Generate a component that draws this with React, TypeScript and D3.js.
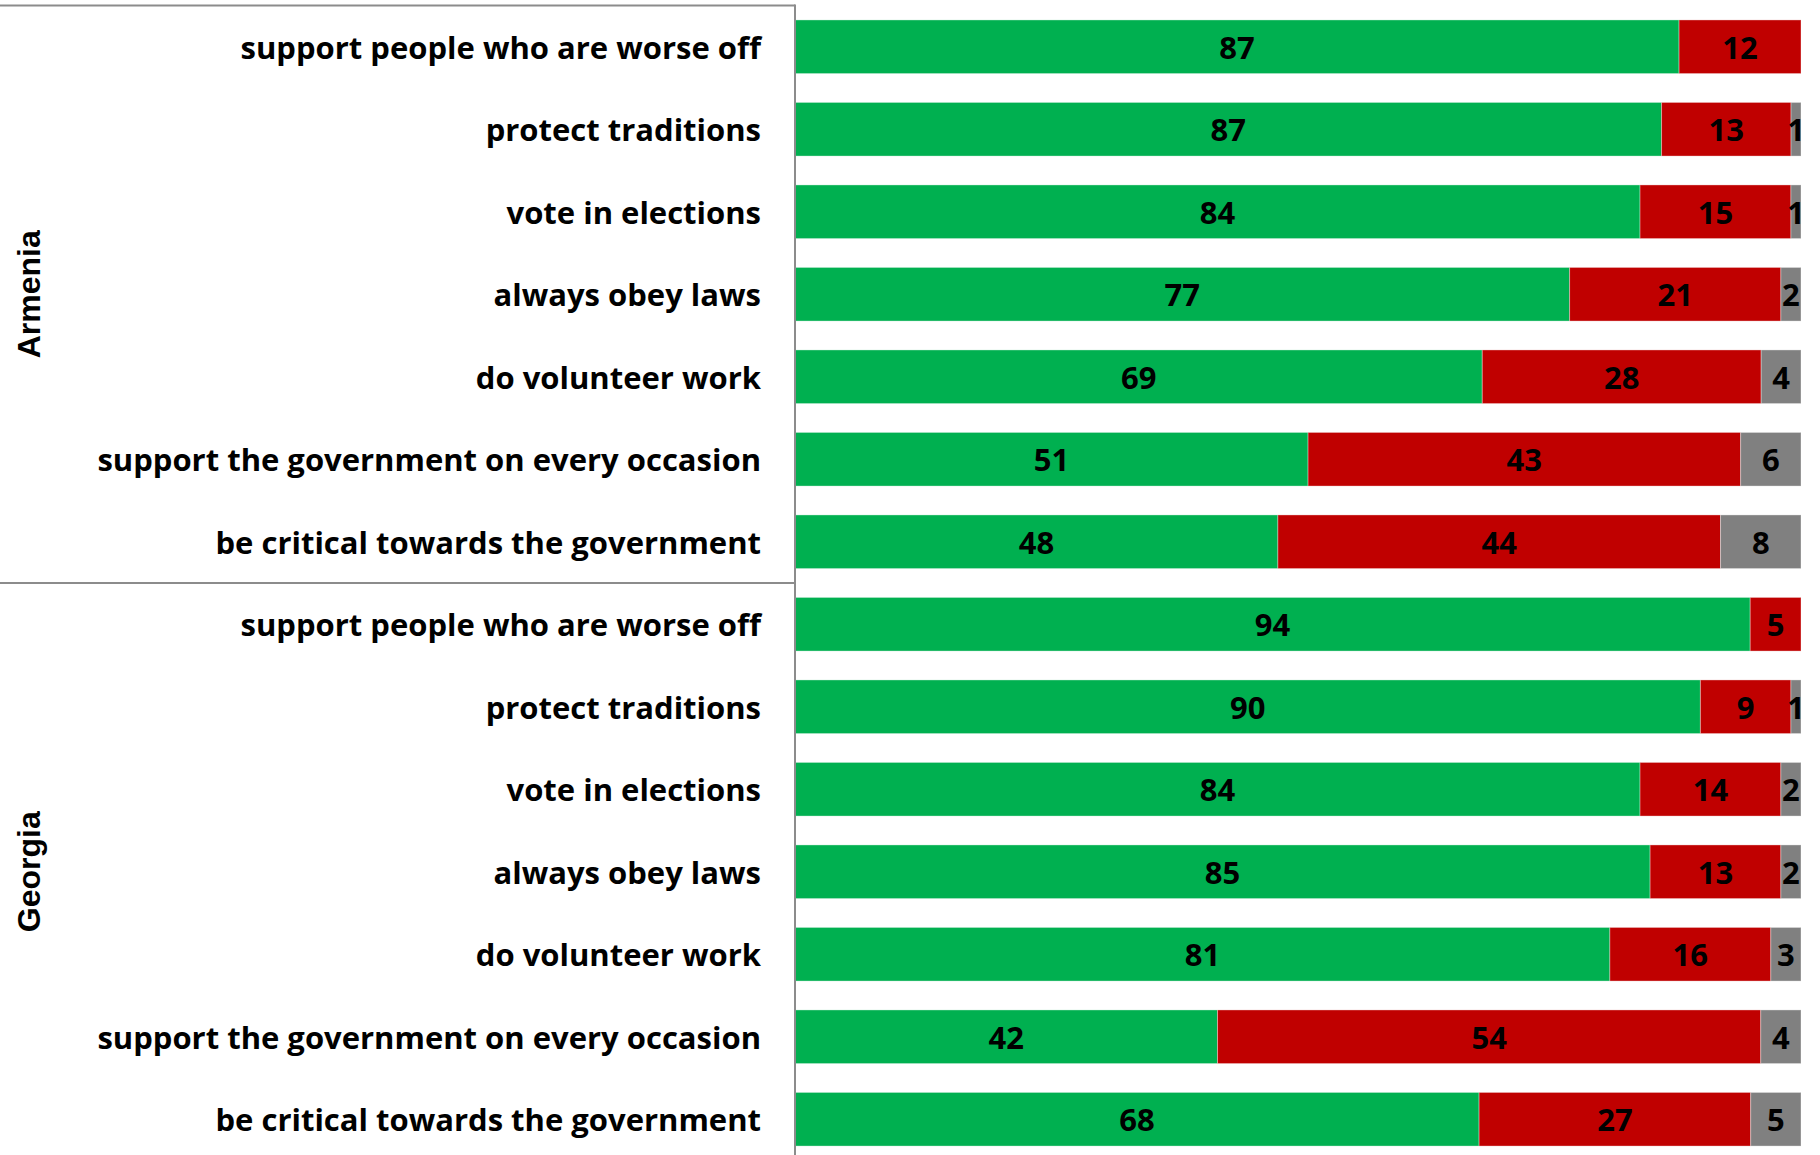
import React, { useMemo } from "react";
import * as d3 from "d3";

const categories = [
  "support people who are worse off",
  "protect traditions",
  "vote in elections",
  "always obey laws",
  "do volunteer work",
  "support the government on every occasion",
  "be critical towards the government",
];
const groups = ["Armenia", "Georgia"];
const armeniaAgree = [87, 87, 84, 77, 69, 51, 48];
const armeniaDisagree = [12, 13, 15, 21, 28, 43, 44];
const armeniaDontKnow = [0, 1, 1, 2, 4, 6, 8];
const georgiaAgree = [94, 90, 84, 85, 81, 42, 68];
const georgiaDisagree = [5, 9, 14, 13, 16, 54, 27];
const georgiaDontKnow = [0, 1, 2, 2, 3, 4, 5];
const seriesKeys = ["agree", "disagree", "dontKnow"];
const seriesColors = ["#00B050", "#C00000", "#808080"];

const W = 1820;
const H = 1155;
const plotLeft = 795;
const plotRight = 1801;
const plotTop = 5.5;
const plotBottom = 1160.5;
const labelRight = 761;
const targetLabelWidth = 664;
const lineColor = "#8c8c8c";
const labelFont = "'Open Sans', sans-serif";

type Row = { id: string; group: string; category: string; agree: number; disagree: number; dontKnow: number };

const rows: Row[] = [];
categories.forEach((c, i) =>
  rows.push({ id: "A" + i, group: groups[0], category: c, agree: armeniaAgree[i], disagree: armeniaDisagree[i], dontKnow: armeniaDontKnow[i] })
);
categories.forEach((c, i) =>
  rows.push({ id: "G" + i, group: groups[1], category: c, agree: georgiaAgree[i], disagree: georgiaDisagree[i], dontKnow: georgiaDontKnow[i] })
);

export default function App() {
  const longest = categories.reduce((a, b) => (b.length > a.length ? b : a), "");

  const fontSize = useMemo(() => {
    try {
      const canvas = document.createElement("canvas");
      const ctx = canvas.getContext("2d");
      if (ctx) {
        ctx.font = "bold 100px 'Open Sans', sans-serif";
        const w = ctx.measureText(longest).width;
        if (w > 0) return (100 * targetLabelWidth) / w;
      }
    } catch (e) {}
    return 29;
  }, [longest]);

  const y = d3
    .scaleBand<string>()
    .domain(rows.map((r) => r.id))
    .range([plotTop, plotBottom])
    .paddingInner(0.35)
    .paddingOuter(0.175);
  const x = d3.scaleLinear().domain([0, 1]).range([plotLeft, plotRight]);

  const stack = d3.stack<Row>().keys(seriesKeys).offset(d3.stackOffsetExpand);
  const stacked = stack(rows);

  const step = y.step();
  const groupBoundary = plotTop + step * categories.length;

  return (
    <div style={{ position: "absolute", left: 0, top: 0 }}>
      <svg width={W} height={H} style={{ display: "block", background: "#fff" }}>
        {stacked.map((s, si) => (
          <g key={s.key}>
            {s.map((d, i) => {
              const r = rows[i];
              const x0 = x(d[0]);
              const x1 = x(d[1]);
              const v = (r as any)[s.key] as number;
              if (v <= 0) return null;
              return (
                <rect
                  key={r.id}
                  x={x0}
                  y={y(r.id)}
                  width={x1 - x0}
                  height={y.bandwidth()}
                  fill={seriesColors[si]}
                  stroke="rgba(255,255,255,0.35)"
                  strokeWidth={1}
                />
              );
            })}
          </g>
        ))}
        {stacked.map((s) => (
          <g key={"lbl" + s.key}>
            {s.map((d, i) => {
              const r = rows[i];
              const v = (r as any)[s.key] as number;
              if (v <= 0) return null;
              return (
                <text
                  key={r.id}
                  x={(x(d[0]) + x(d[1])) / 2}
                  y={(y(r.id) as number) + y.bandwidth() / 2}
                  textAnchor="middle"
                  dominantBaseline="central"
                  fontFamily={labelFont}
                  fontWeight="bold"
                  fontSize={fontSize}
                  fill="#000"
                >
                  {v}
                </text>
              );
            })}
          </g>
        ))}
        {rows.map((r) => (
          <text
            key={"cat" + r.id}
            x={labelRight}
            y={(y(r.id) as number) + y.bandwidth() / 2}
            textAnchor="end"
            dominantBaseline="central"
            fontFamily={labelFont}
            fontWeight="bold"
            fontSize={fontSize}
            fill="#000"
          >
            {r.category}
          </text>
        ))}
        {groups.map((g, gi) => {
          const cy = plotTop + step * categories.length * (gi + 0.5);
          return (
            <text
              key={g}
              transform={`translate(29,${cy}) rotate(-90)`}
              textAnchor="middle"
              dominantBaseline="central"
              fontFamily="'Liberation Sans', Arial, sans-serif"
              fontWeight="bold"
              fontSize={32}
              fill="#000"
            >
              {g}
            </text>
          );
        })}
        <line x1={0} x2={plotLeft} y1={plotTop} y2={plotTop} stroke={lineColor} strokeWidth={2} />
        <line x1={0} x2={plotLeft} y1={groupBoundary} y2={groupBoundary} stroke={lineColor} strokeWidth={2} />
        <line x1={plotLeft} x2={plotLeft} y1={plotTop - 1} y2={plotBottom} stroke={lineColor} strokeWidth={2} />
      </svg>
    </div>
  );
}
